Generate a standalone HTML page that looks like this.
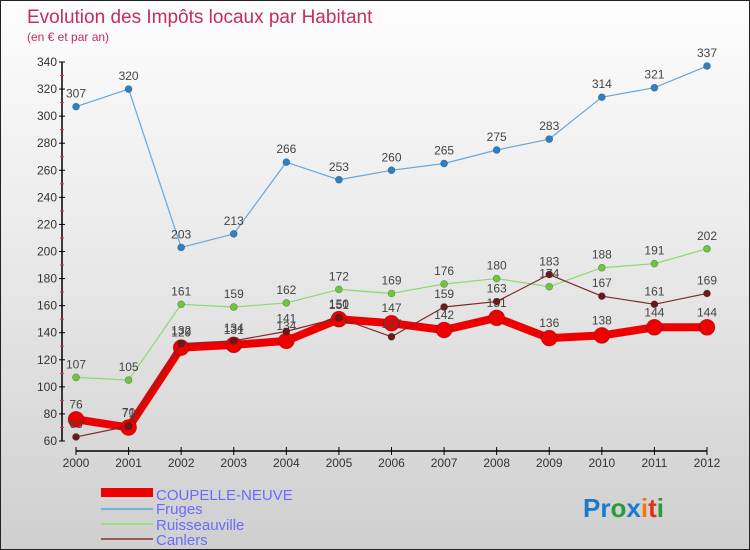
<!DOCTYPE html>
<html><head><meta charset="utf-8">
<style>
html,body{margin:0;padding:0;}
body{width:750px;height:550px;overflow:hidden;font-family:"Liberation Sans",sans-serif;}
#wrap{position:relative;width:748px;height:548px;border:1px solid #222;background:linear-gradient(#fdfdfd,#ececec 40%,#cfcfcf);}
</style></head>
<body>
<div id="wrap">
<svg id="chart" width="748" height="548" style="position:absolute;left:0;top:0">
<text x="26" y="22" font-size="19" fill="#c0305a">Evolution des Impôts locaux par Habitant</text>
<text x="26" y="40" font-size="12" fill="#c0305a">(en € et par an)</text>
<g id="axes"></g>
<g id="series"></g>
<g>
<rect x="100" y="487" width="52" height="9" fill="#e00"/>
<text x="155" y="499" font-size="15" fill="#6a6aff">COUPELLE-NEUVE</text>
<rect x="100" y="507" width="52" height="2" fill="#7aaedb"/>
<text x="155" y="513" font-size="15" fill="#6a6aff">Fruges</text>
<rect x="100" y="522" width="52" height="2" fill="#9be07a"/>
<text x="155" y="529" font-size="15" fill="#6a6aff">Ruisseauville</text>
<rect x="100" y="537" width="52" height="2" fill="#9a5a5a"/>
<text x="155" y="544" font-size="15" fill="#6a6aff">Canlers</text>
</g>
<text x="582" y="516" font-size="26" font-weight="bold"><tspan fill="#1a7ad0">Pr</tspan><tspan fill="#2a9a3a">o</tspan><tspan fill="#1a7ad0">x</tspan><tspan fill="#f07a10">i</tspan><tspan fill="#e03020">t</tspan><tspan fill="#2a9a3a">i</tspan></text>
</svg>
</div>
<script>
const years=[2000,2001,2002,2003,2004,2005,2006,2007,2008,2009,2010,2011,2012];
const coupelle=[76,70,129,131,134,150,147,142,151,136,138,144,144];
const fruges=[307,320,203,213,266,253,260,265,275,283,314,321,337];
const ruisseauville=[107,105,161,159,162,172,169,176,180,174,188,191,202];
const canlers=[63,71,132,134,141,151,137,159,163,183,167,161,169];
const yTicks=[60,80,100,120,140,160,180,200,220,240,260,280,300,320,340];

const NS="http://www.w3.org/2000/svg";
const x=i=>75+i*(706-75)/(years.length-1);
const y=v=>440-(v-60)*(379/280);
function mk(tag,attrs,parent){const e=document.createElementNS(NS,tag);for(const k in attrs)e.setAttribute(k,attrs[k]);parent.appendChild(e);return e;}
const ax=document.getElementById('axes');
const sg=document.getElementById('series');
let l=mk('line',{x1:61,y1:61,x2:61,y2:440,stroke:'#000','stroke-width':1.5},ax);


l=mk('line',{x1:75,y1:450,x2:706,y2:450,stroke:'#000','stroke-width':1.5},ax);


yTicks.forEach((v,i)=>{
  mk('line',{x1:58,y1:y(v),x2:64,y2:y(v),stroke:'#000'},ax);
  if(i<yTicks.length-1) mk('line',{x1:59,y1:y(v+10),x2:63,y2:y(v+10),stroke:'#e33'},ax);
  const t=mk('text',{x:56,y:y(v)+4,'font-size':12,fill:'#333','text-anchor':'end'},ax);
  t.textContent=v;
  
  
});
years.forEach((yr,i)=>{
  mk('line',{x1:x(i),y1:446,x2:x(i),y2:454,stroke:'#000'},ax);
  const t=mk('text',{x:x(i),y:466,'font-size':12,fill:'#333','text-anchor':'middle'},ax);
  t.textContent=yr;
  
  
});
function draw(data,name,color,w,r,dot,labelDy){
  const g=mk('g',{},sg);
  
  
  const p=mk('polyline',{points:data.map((v,i)=>x(i)+','+y(v)).join(' '),fill:'none',stroke:color,'stroke-width':w,'stroke-linejoin':'round'},g);
  
  
  data.forEach((v,i)=>{
    const c=mk('circle',{cx:x(i),cy:y(v),r:r,fill:dot,stroke:'rgba(0,0,0,0.3)','stroke-width':0.7},g);
    
    
    const t=mk('text',{x:x(i),y:y(v)-labelDy,'font-size':12,fill:'#444','text-anchor':'middle'},g);
    t.textContent=v;
    
    
  });
}
draw(fruges,'fruges','#6aa6d8',1.2,3.5,'#2f7fc4',9);
draw(ruisseauville,'ruisseauville','#8fd86a',1.2,3.5,'#6cc83a',9);
draw(coupelle,'coupelle-neuve','#ee0000',8,8,'#ee0000',11);
draw(canlers,'canlers','#7a2a2a',1.2,3.5,'#6a1a1a',9);
</script>
</body></html>
